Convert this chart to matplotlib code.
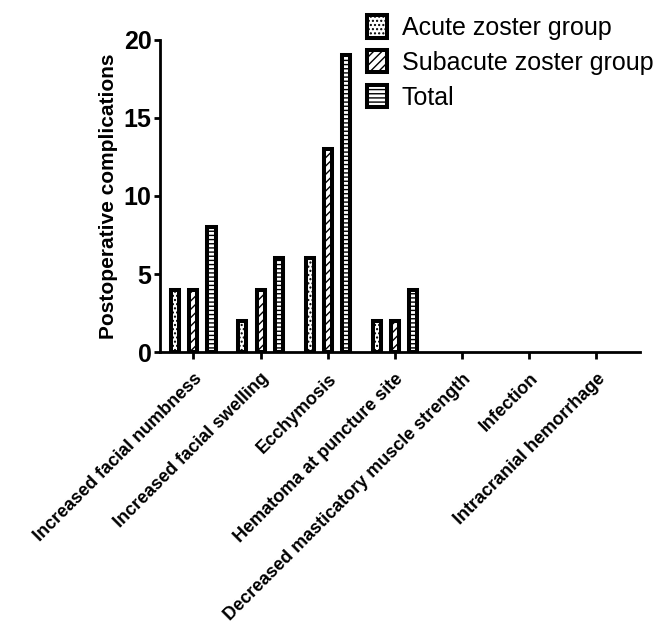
import matplotlib
matplotlib.use("Agg")
import matplotlib.pyplot as plt
import numpy as np

plt.rcParams['font.family'] = ['Liberation Sans', 'DejaVu Sans']
plt.rcParams['hatch.linewidth'] = 1.0

categories = ["Increased facial numbness", "Increased facial swelling", "Ecchymosis",
              "Hematoma at puncture site", "Decreased masticatory muscle strength",
              "Infection", "Intracranial hemorrhage"]
acute = [4, 2, 6, 2, 0, 0, 0]
subacute = [4, 4, 13, 2, 0, 0, 0]
total = [8, 6, 19, 4, 0, 0, 0]
series_names = ["Acute zoster group", "Subacute zoster group", "Total"]
yticks = [0, 5, 10, 15, 20]

fig = plt.figure(figsize=(6.55, 6.3), dpi=100)
ax = fig.add_axes([0.244, 0.441, 0.733, 0.496])

x = np.arange(len(categories))
w = 0.12
off = 0.27
hatches = ['....', '////', '----']
for i, (vals, name, h) in enumerate(zip([acute, subacute, total], series_names, hatches)):
    lws = [2.9 if v > 0 else 0 for v in vals]
    ax.bar(x + (i - 1) * off, vals, width=w, facecolor='white', edgecolor='black',
           linewidth=lws, hatch=h, label=name)

ax.set_xlim(-0.5, 6.65)
ax.set_ylim(0, 20)
ax.set_yticks(yticks)
ax.set_xticks(x)
ax.set_xticklabels(categories, rotation=45, ha='right', rotation_mode='anchor',
                   fontsize=13, fontweight='bold')
for lab in ax.get_yticklabels():
    lab.set_fontsize(18)
    lab.set_fontweight('bold')
ax.set_ylabel("Postoperative complications", fontsize=15, fontweight='bold', labelpad=4)
for s in ['top', 'right']:
    ax.spines[s].set_visible(False)
for s in ['left', 'bottom']:
    ax.spines[s].set_linewidth(2)
ax.tick_params(axis='y', width=2, length=4, pad=2)
ax.tick_params(axis='x', width=2, length=5, pad=8)

leg = ax.legend(loc='upper left', bbox_to_anchor=(0.41, 1.11), frameon=False,
                fontsize=18, handlelength=0.8, handleheight=1.0, handletextpad=0.6,
                labelspacing=0.4, borderaxespad=0)
for p in leg.get_patches():
    p.set_linewidth(2.9)

fig.savefig("out.png", dpi=100)
